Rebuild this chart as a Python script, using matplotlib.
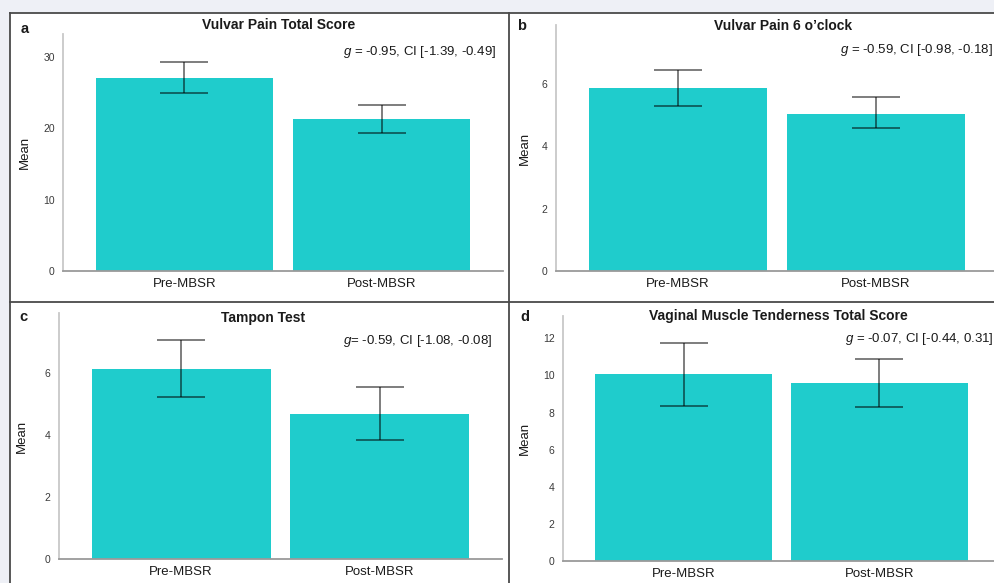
import matplotlib
matplotlib.use("Agg")
import matplotlib.pyplot as plt
from matplotlib.lines import Line2D
from matplotlib.patches import Rectangle

plt.rcParams["font.family"] = ["Liberation Sans", "DejaVu Sans"]
plt.rcParams["mathtext.fontset"] = "custom"
plt.rcParams["mathtext.rm"] = "Liberation Sans"
plt.rcParams["mathtext.it"] = "Liberation Sans:italic"

FIG_W, FIG_H = 995, 583

categories = ["Pre-MBSR", "Post-MBSR"]

titles = [
    "Vulvar Pain Total Score",
    "Vulvar Pain 6 o\u2019clock",
    "Tampon Test",
    "Vaginal Muscle Tenderness Total Score",
]
letters = ["a", "b", "c", "d"]
effects = [
    "$g$ = -0.95, CI [-1.39, -0.49]",
    "$g$ = -0.59, CI [-0.98, -0.18]",
    "$g$= -0.59, CI [-1.08, -0.08]",
    "$g$ = -0.07, CI [-0.44, 0.31]",
]

means_a = [27.1, 21.3]
lower_a = [24.9, 19.3]
upper_a = [29.3, 23.2]

means_b = [5.88, 5.05]
lower_b = [5.30, 4.58]
upper_b = [6.46, 5.58]

means_c = [6.13, 4.66]
lower_c = [5.22, 3.82]
upper_c = [7.04, 5.54]

means_d = [10.05, 9.60]
lower_d = [8.34, 8.30]
upper_d = [11.77, 10.90]

yticks_a = [0, 10, 20, 30]
yticks_b = [0, 2, 4, 6]
yticks_c = [0, 2, 4, 6]
yticks_d = [0, 2, 4, 6, 8, 10, 12]

ymax = [33.2, 7.9, 7.92, 13.2]

BAR_COLOR = "#1FCCCC"
TEXT = "#1A1A1A"
TICK_TEXT = "#3A3A3A"

# axes boxes in pixels: left, top, right, bottom
AX_BOXES = [
    (63, 34, 503, 271),
    (556, 25, 998, 271),
    (59, 313, 502, 559),
    (563, 316, 1000, 561),
]
LETTER_POS = [(25, 29), (522, 26), (23, 317), (525, 317)]
TITLE_POS = [(279, 25), (783, 26), (263, 318), (778, 316)]
EFFECT_POS = [(343, 52), (840, 50), (343, 341), (845, 339)]
YLABEL_X = [25, 525, 22, 525]


def fx(x):
    return x / FIG_W


def fy(y):
    return 1 - y / FIG_H


def draw_panel(fig, idx, means, lower, upper, yticks):
    left, top, right, bottom = AX_BOXES[idx]
    ax = fig.add_axes([fx(left), fy(bottom), fx(right - left), (bottom - top) / FIG_H])
    ax.set_facecolor("white")
    xs = list(range(len(categories)))
    ax.bar(xs, means, width=0.9, color=BAR_COLOR, zorder=2)
    yerr = [
        [m - lo for m, lo in zip(means, lower)],
        [hi - m for m, hi in zip(means, upper)],
    ]
    ax.errorbar(
        xs, means, yerr=yerr, fmt="none", ecolor=(0, 0, 0, 0.55),
        elinewidth=1.3, capsize=17.5, capthick=1.3, zorder=3,
    )
    ax.set_xlim(-0.615, 1.615)
    ax.set_ylim(0, ymax[idx])
    ax.set_xticks(xs)
    ax.set_xticklabels(categories, fontsize=9.5, color=TEXT)
    ax.set_yticks(yticks)
    ax.set_yticklabels([str(t) for t in yticks], fontsize=7.5, color=TICK_TEXT)
    ax.tick_params(axis="both", length=0)
    ax.tick_params(axis="x", pad=5)
    ax.tick_params(axis="y", pad=6)
    for name in ("top", "right"):
        ax.spines[name].set_visible(False)
    ax.spines["left"].set_color("#C8C8C8")
    ax.spines["left"].set_linewidth(1.3)
    ax.spines["bottom"].set_color("#9A9A9A")
    ax.spines["bottom"].set_linewidth(1.3)

    ax.set_ylabel("Mean", fontsize=9.5, color=TEXT, va="center")
    ax.yaxis.set_label_coords((YLABEL_X[idx] - left) / (right - left), 0.5)

    lx, ly = LETTER_POS[idx]
    fig.text(fx(lx), fy(ly), letters[idx], fontsize=10.5, fontweight="bold",
             color=TEXT, ha="center", va="center")
    tx, ty = TITLE_POS[idx]
    fig.text(fx(tx), fy(ty), titles[idx], fontsize=10, fontweight="bold",
             color=TEXT, ha="center", va="center")
    ex, ey = EFFECT_POS[idx]
    fig.text(fx(ex), fy(ey), effects[idx], fontsize=9.5, color=TEXT,
             ha="left", va="center")
    return ax


fig = plt.figure(figsize=(FIG_W / 100, FIG_H / 100), dpi=100)
fig.patch.set_facecolor("white")

# light frame outside the panels
fig.patches.append(Rectangle((0, fy(13)), 1, 13 / FIG_H, transform=fig.transFigure,
                             facecolor="#EEF0F6", edgecolor="none", zorder=0))
fig.patches.append(Rectangle((0, 0), fx(9.5), 1, transform=fig.transFigure,
                             facecolor="#EEF0F6", edgecolor="none", zorder=0))

draw_panel(fig, 0, means_a, lower_a, upper_a, yticks_a)
draw_panel(fig, 1, means_b, lower_b, upper_b, yticks_b)
draw_panel(fig, 2, means_c, lower_c, upper_c, yticks_c)
draw_panel(fig, 3, means_d, lower_d, upper_d, yticks_d)

border = "#4A4A4A"
fig.lines.extend([
    Line2D([fx(9.5), 1], [fy(13), fy(13)], transform=fig.transFigure, color=border, lw=1.3),
    Line2D([fx(9.5), fx(9.5)], [0, fy(13)], transform=fig.transFigure, color=border, lw=1.3),
    Line2D([fx(509), fx(509)], [0, fy(13)], transform=fig.transFigure, color=border, lw=1.3),
    Line2D([fx(9.5), 1], [fy(301.5), fy(301.5)], transform=fig.transFigure, color=border, lw=1.3),
])

fig.savefig("out.png", dpi=100, facecolor=fig.get_facecolor())
plt.close(fig)
